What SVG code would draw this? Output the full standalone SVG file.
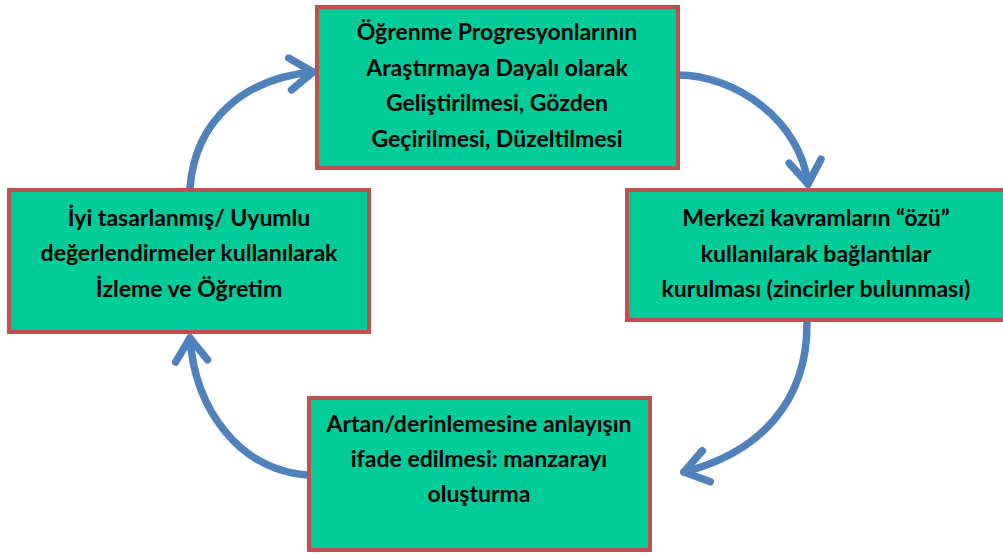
<svg xmlns="http://www.w3.org/2000/svg" width="1003" height="557" viewBox="0 0 1003 557">
<style>
.box{fill:#00CC99;stroke:#C0504D;stroke-width:4}
.t{font-family:Lato,"Open Sans",sans-serif;font-weight:bold;font-size:23px;fill:#000;text-anchor:middle}
.c{fill:none;stroke:#4F81BD;stroke-width:7.5;stroke-linecap:round}
</style>
<defs>
<marker id="ah" markerUnits="userSpaceOnUse" markerWidth="40" markerHeight="40" viewBox="-30 -20 40 40" refX="0" refY="0" orient="auto" overflow="visible">
<path d="M-23,-16 L0,0 L-23,16" fill="none" stroke="#4F81BD" stroke-width="7.5" stroke-linecap="round" stroke-linejoin="round"/>
</marker>
</defs>
<rect width="1003" height="557" fill="#fff"/>
<g id="connectors">
<path class="c" d="M678,75 C735,75 800,120 808,184" marker-end="url(#ah)"/>
<path class="c" d="M807,324 C807,400 762,452 684,472" marker-end="url(#ah)"/>
<path class="c" d="M307,475 C240,470 195,410 190,338" marker-end="url(#ah)"/>
<path class="c" d="M190,188 C195,120 245,78 313,72" marker-end="url(#ah)"/>
</g>
<g id="n1">
<rect class="box" x="317" y="7" width="361" height="161"/>
<text class="t" x="497" y="40">Öğrenme Progresyonlarının</text>
<text class="t" x="497" y="76">Araştırmaya Dayalı olarak</text>
<text class="t" x="497" y="111">Geliştirilmesi, Gözden</text>
<text class="t" x="497" y="147">Geçirilmesi, Düzeltilmesi</text>
</g>
<g id="n2">
<rect class="box" x="627" y="190" width="378" height="130"/>
<text class="t" x="816" y="226">Merkezi kavramların “özü”</text>
<text class="t" x="816" y="262">kullanılarak bağlantılar</text>
<text class="t" x="816" y="297">kurulması (zincirler bulunması)</text>
</g>
<g id="n3">
<rect class="box" x="309" y="398" width="341" height="152"/>
<text class="t" x="479" y="432">Artan/derinlemesine anlayışın</text>
<text class="t" x="479" y="467">ifade edilmesi: manzarayı</text>
<text class="t" x="479" y="502">oluşturma</text>
</g>
<g id="n4">
<rect class="box" x="9" y="190" width="360" height="142"/>
<text class="t" x="189" y="226">İyi tasarlanmış/ Uyumlu</text>
<text class="t" x="189" y="261">değerlendirmeler kullanılarak</text>
<text class="t" x="189" y="297">İzleme ve Öğretim</text>
</g>
</svg>
